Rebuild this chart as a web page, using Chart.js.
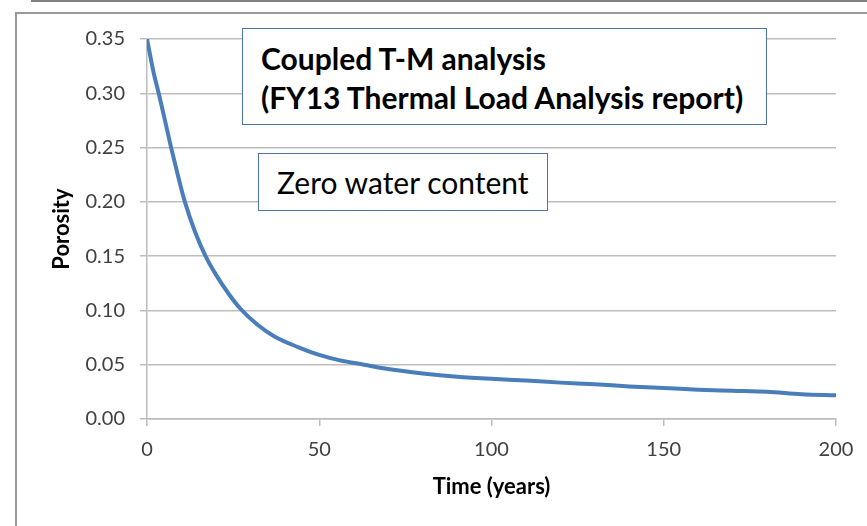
<!DOCTYPE html>
<html>
<head>
<meta charset="utf-8">
<script src="https://cdn.jsdelivr.net/npm/chart.js@4"></script>
<style>
  html, body { margin: 0; padding: 0; background: #fff; }
  #wrap { position: relative; width: 867px; height: 526px; overflow: hidden; font-family: Lato, sans-serif; }
  #chart { position: absolute; left: 0; top: 0; }
  .frameTop { position: absolute; left: 31px; top: 0; width: 836px; height: 2px; background: #808080; }
  .frameIn { position: absolute; left: 15px; top: 12px; width: 852px; height: 514px;
             border-top: 2px solid #9a9a9a; border-left: 2px solid #9a9a9a; box-sizing: border-box; }
  .note { position: absolute; background: #fff; border: 1.5px solid #4f72a8; box-sizing: border-box;
          color: #000; font-size: 30px; line-height: 38.5px; white-space: nowrap; }
  #note1 { left: 242px; top: 28px; width: 525px; height: 97px; padding: 10px 0 0 18px; font-weight: bold; }
  #note2 { left: 258px; top: 153px; width: 290px; height: 58px; padding: 8.5px 0 0 18px; }
</style>
</head>
<body>
<div id="wrap">
  <div class="frameTop"></div>
  <div class="frameIn"></div>
  <canvas id="chart" width="867" height="526"></canvas>
  <div class="note" id="note1">Coupled T-M analysis<br>(FY13 Thermal Load Analysis report)</div>
  <div class="note" id="note2">Zero water content</div>
</div>
<script>
// time in years and porosity
var years = [0, 2, 3.4, 5, 7, 9, 11, 14, 17, 20, 24, 27, 32, 37, 44, 50, 56, 63, 70, 80,
             90, 100, 110, 120, 130, 140, 150, 160, 170, 180, 190, 200];
var porosity = [0.350, 0.318, 0.300, 0.278, 0.250, 0.224, 0.200, 0.172, 0.150, 0.133, 0.114, 0.102,
                0.087, 0.076, 0.066, 0.059, 0.054, 0.050, 0.046, 0.042, 0.039, 0.037, 0.0355, 0.0335,
                0.032, 0.030, 0.0285, 0.027, 0.026, 0.025, 0.0228, 0.0218];

var xTicks = [0, 50, 100, 150, 200];
var yTicks = [0, 0.05, 0.10, 0.15, 0.20, 0.25, 0.30, 0.35];

var points = [];
for (var i = 0; i < years.length; i++) {
  points.push({x: years[i], y: porosity[i]});
}

var gridGray = '#bdbdbd';
var tickFont = {family: 'Lato', size: 20};
var titleFont = {family: 'Lato', size: 22, weight: 'bold'};

var ctx = document.getElementById('chart');
var porosityChart = new Chart(ctx, {
  type: 'line',
  data: {
    datasets: [{
      label: 'Porosity',
      data: points,
      borderColor: '#4a7ebb',
      borderWidth: 4,
      pointRadius: 0,
      fill: false,
      cubicInterpolationMode: 'monotone'
    }]
  },
  options: {
    responsive: false,
    animation: false,
    layout: { padding: { left: 0, top: 39, right: 31, bottom: 0 } },
    plugins: {
      legend: { display: false },
      tooltip: { enabled: false }
    },
    scales: {
      x: {
        type: 'linear',
        min: 0,
        max: 200,
        afterBuildTicks: function(scale) {
          scale.ticks = xTicks.map(function(v) { return {value: v}; });
        },
        afterFit: function(scale) { scale.height = 107; },
        grid: { drawOnChartArea: false, drawTicks: true, tickLength: 7, color: gridGray, lineWidth: 1.5 },
        border: { color: gridGray, width: 1.5 },
        ticks: { color: '#404040', font: tickFont, padding: 12, maxRotation: 0 },
        title: { display: true, text: 'Time (years)', color: '#000', font: titleFont, padding: { top: 0, bottom: 26 } }
      },
      y: {
        min: 0,
        max: 0.35,
        afterBuildTicks: function(scale) {
          scale.ticks = yTicks.map(function(v) { return {value: v}; });
        },
        afterFit: function(scale) { scale.width = 147; },
        grid: { drawTicks: true, tickLength: 7, color: gridGray, lineWidth: 1.5 },
        border: { color: gridGray, width: 1.5 },
        ticks: {
          color: '#404040',
          font: tickFont,
          padding: 15,
          callback: function(v) { return Number(v).toFixed(2); }
        },
        title: { display: true, text: 'Porosity', color: '#000', font: titleFont, padding: { top: 49, bottom: 0 } }
      }
    }
  }
});
</script>
</body>
</html>
